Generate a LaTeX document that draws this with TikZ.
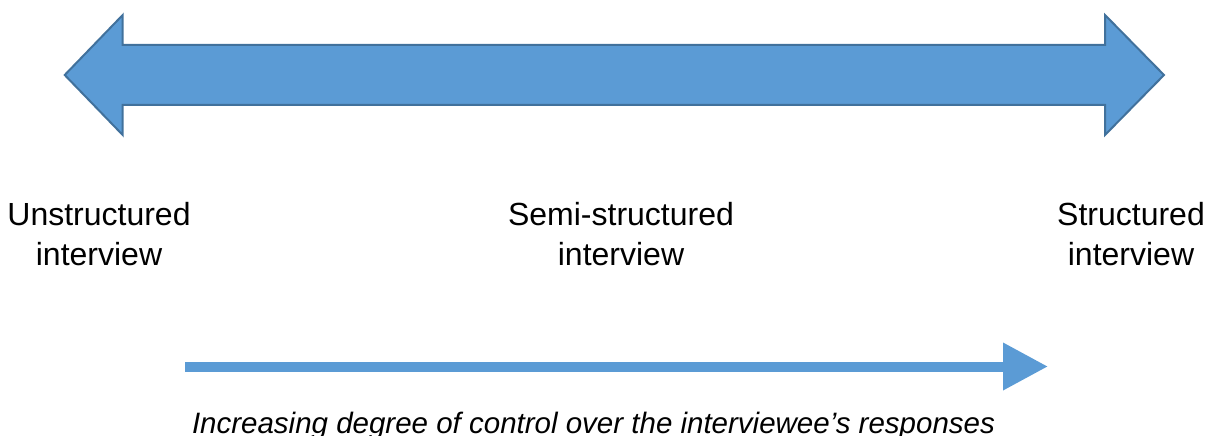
\documentclass[tikz,border=0pt]{standalone}
\usepackage{fontspec}
\setmainfont{Liberation Sans}
\usetikzlibrary{arrows.meta}
\definecolor{arrowfill}{HTML}{5B9BD5}
\definecolor{arrowline}{HTML}{41719C}
\tikzset{basic/.style={inner sep=0pt,text=black}}
\tikzset{levelnode/.style={basic,align=center,font=\fontsize{32}{40}\selectfont}}
\tikzset{captiontext/.style={basic,anchor=base,font=\fontsize{29.5}{35}\selectfont\itshape}}
\tikzset{bigarrow/.style={fill=arrowfill,draw=arrowline,line width=2pt,line join=miter}}

\begin{document}
\begin{tikzpicture}[x=1pt,y=-1pt]

    \useasboundingbox (0,0) rectangle (1211,436);

    % double arrow on top
    \draw[bigarrow] (64.7,75) -- (122.7,15) -- (122.7,45) -- (1105,45) -- (1105,15)
        -- (1164,75) -- (1105,135) -- (1105,105) -- (122.7,105) -- (122.7,135) -- cycle;

    \node[levelnode] (unstr) at (99,234.5) {Unstructured\\interview};
    \node[levelnode] (semi) at (621,234.5) {Semi-structured\\interview};
    \node[levelnode] (str) at (1131,234.5) {Structured\\interview};

    \coordinate (from) at (185,366.5);
    \coordinate (to) at (1048,366.5);
    \draw[arrowfill,line width=10pt,-{Triangle[length=45pt,width=45pt]}] (from) -- (to);

    \node[captiontext] (ctrl) at (593.5,433)
        {Increasing degree of control over the interviewee’s responses};

\end{tikzpicture}
\end{document}
